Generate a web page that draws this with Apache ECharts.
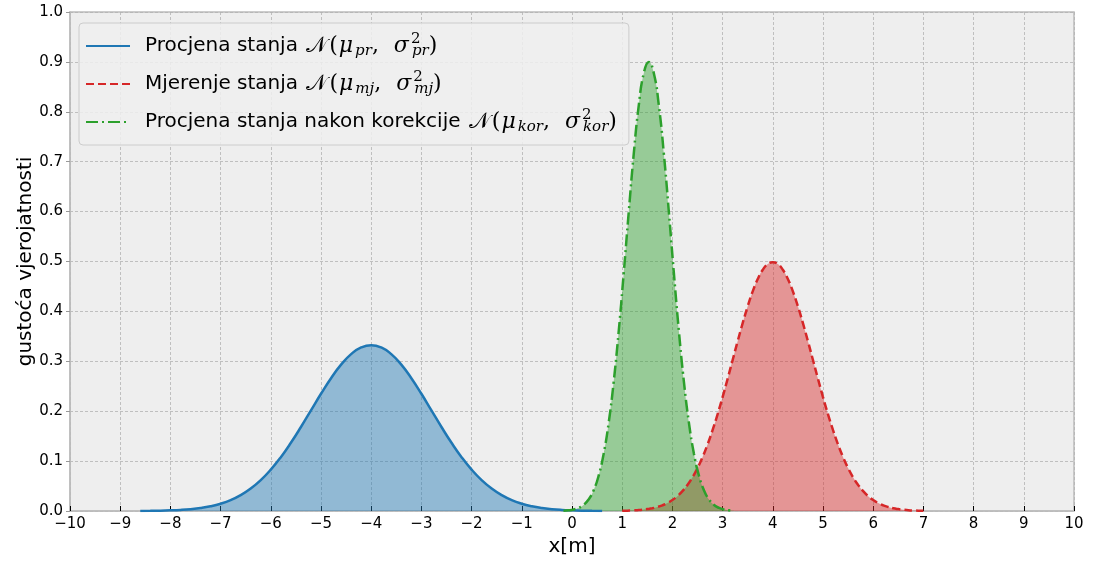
<!DOCTYPE html>
<html>
<head>
<meta charset="utf-8">
<script src="https://cdn.jsdelivr.net/npm/echarts@6/dist/echarts.min.js"></script>
<style>
html,body{margin:0;padding:0;background:#fff;}
#chart{width:1094px;height:562px;}
</style>
</head>
<body>
<div id="chart"></div>
<script>
// ---- data ----
var xTicks = [-10,-9,-8,-7,-6,-5,-4,-3,-2,-1,0,1,2,3,4,5,6,7,8,9,10];
var yTicks = [0,0.1,0.2,0.3,0.4,0.5,0.6,0.7,0.8,0.9,1.0];

var priorX = [-8.6,-8.4,-8.2,-8.0,-7.8,-7.6,-7.4,-7.2,-7.0,-6.8,-6.6,-6.4,-6.2,-6.0,-5.8,-5.6,-5.4,-5.2,-5.0,-4.8,-4.6,-4.4,-4.2,-4.0,
  -3.8,-3.6,-3.4,-3.2,-3.0,-2.8,-2.6,-2.4,-2.2,-2.0,-1.8,-1.6,-1.4,-1.2,-1.0,-0.8,-0.6,-0.4,-0.2,0.0,0.2,0.4,0.6];
var priorY = [0.0002,0.0004,0.0007,0.0013,0.0022,0.0037,0.0060,0.0095,0.0146,0.0218,0.0318,0.0450,0.0619,0.0829,0.1079,0.1367,0.1683,0.2016,0.2349,0.2662,0.2933,0.3144,0.3278,0.3324,
  0.3278,0.3144,0.2933,0.2662,0.2349,0.2016,0.1683,0.1367,0.1079,0.0829,0.0619,0.0450,0.0318,0.0218,0.0146,0.0095,0.0060,0.0037,0.0022,0.0013,0.0007,0.0004,0.0002];

var measX = [1.0,1.1,1.2,1.3,1.4,1.5,1.6,1.7,1.8,1.9,2.0,2.1,2.2,2.3,2.4,2.5,2.6,2.7,2.8,2.9,3.0,3.1,3.2,3.3,3.4,3.5,3.6,3.7,3.8,3.9,
  4.0,4.1,4.2,4.3,4.4,4.5,4.6,4.7,4.8,4.9,5.0,5.1,5.2,5.3,5.4,5.5,5.6,5.7,5.8,5.9,6.0,6.1,6.2,6.3,6.4,6.5,6.6,6.7,6.8,6.9,7.0];
var measY = [0.0004,0.0007,0.0011,0.0017,0.0025,0.0038,0.0055,0.0080,0.0114,0.0159,0.0219,0.0297,0.0397,0.0522,0.0675,0.0860,0.1079,0.1332,0.1619,0.1938,0.2283,0.2649,0.3025,0.3401,0.3764,0.4102,0.4401,0.4648,0.4834,0.4948,
  0.4987,0.4948,0.4834,0.4648,0.4401,0.4102,0.3764,0.3401,0.3025,0.2649,0.2283,0.1938,0.1619,0.1332,0.1079,0.0860,0.0675,0.0522,0.0397,0.0297,0.0219,0.0159,0.0114,0.0080,0.0055,0.0038,0.0025,0.0017,0.0011,0.0007,0.0004];

var corrX = [-0.17,-0.07,0.03,0.13,0.23,0.33,0.43,0.53,0.63,0.73,0.83,0.93,1.03,1.13,1.23,1.33,1.43,1.53,
  1.63,1.73,1.83,1.93,2.03,2.13,2.23,2.33,2.43,2.53,2.63,2.73,2.83,2.93,3.03,3.13,3.23];
var corrY = [0.0006,0.0013,0.0029,0.0061,0.0121,0.0230,0.0412,0.0704,0.1143,0.1762,0.2583,0.3597,0.4760,0.5987,0.7156,0.8128,0.8774,0.9000,
  0.8774,0.8128,0.7156,0.5987,0.4760,0.3597,0.2583,0.1762,0.1143,0.0704,0.0412,0.0230,0.0121,0.0061,0.0029,0.0013,0.0006];

var seriesNames = ['prior', 'mjerenje', 'korekcija'];
var legendRich = {
  prior: '{sp|}{t|Procjena stanja }{n|\uD835\uDCA9}{p|(}{m|\u03BC}{sub|pr}{p|,  }{m|\u03C3}{sup|2}{sub|pr}{p|)}',
  mjerenje: '{sp|}{t|Mjerenje stanja }{n|\uD835\uDCA9}{p|(}{m|\u03BC}{sub|mj}{p|,  }{m|\u03C3}{sup|2}{sub|mj}{p|)}',
  korekcija: '{sp|}{t|Procjena stanja nakon korekcije }{n|\uD835\uDCA9}{p|(}{m|\u03BC}{sub|kor}{p|,  }{m|\u03C3}{sup|2}{sub|kor}{p|)}'
};
var xName = 'x[m]';
var yName = 'gustoća vjerojatnosti';
var colors = ['#1f77b4', '#d62728', '#2ca02c'];

function pairs(xs, ys){ return xs.map(function(x,i){ return [x, ys[i]]; }); }
var dataSets = [pairs(priorX, priorY), pairs(measX, measY), pairs(corrX, corrY)];
var dashes = ['solid', [8,4], [12,4,2,4]];

var series = [];
dataSets.forEach(function(d, i){
  series.push({
    name: seriesNames[i] + '_fill', type: 'line', data: d, smooth: true, symbol: 'none', silent: true, z: 1,
    lineStyle: {width: 0, opacity: 0}, areaStyle: {color: colors[i], opacity: 0.45}, itemStyle: {color: colors[i]}
  });
});
dataSets.forEach(function(d, i){
  series.push({
    name: seriesNames[i], type: 'line', data: d, smooth: true, symbol: 'none', z: 3,
    lineStyle: {width: 2.5, color: colors[i], type: dashes[i]}, itemStyle: {color: colors[i]}
  });
});

var chart = echarts.init(document.getElementById('chart'), null, {renderer: 'canvas'});
var ff = 'DejaVu Sans';
chart.setOption({
  animation: false,
  backgroundColor: '#ffffff',
  grid: {left: 70, right: 20, top: 12, bottom: 50, show: true, backgroundColor: '#eeeeee', borderColor: '#bcbcbc', borderWidth: 1.5},
  legend: {
    data: seriesNames, orient: 'vertical', left: 79, top: 23,
    padding: [9, 12, 10, 6], itemGap: 11, itemWidth: 44, itemHeight: 14,
    backgroundColor: 'rgba(238,238,238,0.85)', borderColor: '#cccccc', borderWidth: 1, borderRadius: 4,
    itemStyle: {opacity: 0, borderWidth: 0},
    formatter: function(n){ return legendRich[n]; },
    textStyle: {
      color: '#000', fontFamily: ff, fontSize: 20,
      rich: {
        sp: {width: 10},
        t: {fontFamily: ff, fontSize: 20, color: '#000', lineHeight: 28},
        p: {fontFamily: 'DejaVu Serif', fontSize: 22, color: '#000'},
        n: {fontFamily: 'DejaVu Serif', fontSize: 22, color: '#000', padding: [0, 2, 0, 2]},
        m: {fontFamily: 'DejaVu Serif', fontStyle: 'italic', fontSize: 22, color: '#000', padding: [0, 1, 0, 1]},
        sub: {fontFamily: 'DejaVu Serif', fontStyle: 'italic', fontSize: 15, color: '#000', padding: [11, 0, 0, 1]},
        sup: {fontFamily: 'DejaVu Serif', fontSize: 15, color: '#000', padding: [0, 0, 13, 1], width: 0}
      }
    }
  },
  xAxis: {
    type: 'value', min: -10, max: 10, interval: 1,
    name: xName, nameLocation: 'middle', nameGap: 26,
    nameTextStyle: {fontFamily: ff, fontSize: 20, color: '#000'},
    axisLine: {show: true, onZero: false, lineStyle: {color: '#bcbcbc', width: 1.5}},
    axisTick: {show: true, inside: true, length: 5, lineStyle: {color: '#000', width: 1}},
    axisLabel: {fontFamily: ff, fontSize: 15, color: '#000', margin: 6,
      formatter: function(v){ return String(v).replace('-', '\u2212'); }},
    splitLine: {show: true, lineStyle: {color: '#b2b2b2', type: [3, 2], width: 0.8}}
  },
  yAxis: {
    type: 'value', min: 0, max: 1, interval: 0.1,
    name: yName, nameLocation: 'middle', nameGap: 34, nameMoveOverlap: false,
    nameTextStyle: {fontFamily: ff, fontSize: 20, color: '#000'},
    axisLine: {show: true, onZero: false, lineStyle: {color: '#bcbcbc', width: 1.5}},
    axisTick: {show: true, inside: false, length: 4, lineStyle: {color: '#999', width: 1}},
    axisLabel: {fontFamily: ff, fontSize: 15, color: '#000', margin: 7,
      formatter: function(v){ return v.toFixed(1); }},
    splitLine: {show: true, lineStyle: {color: '#b2b2b2', type: [3, 2], width: 0.8}}
  },
  series: series
});
</script>
</body>
</html>
